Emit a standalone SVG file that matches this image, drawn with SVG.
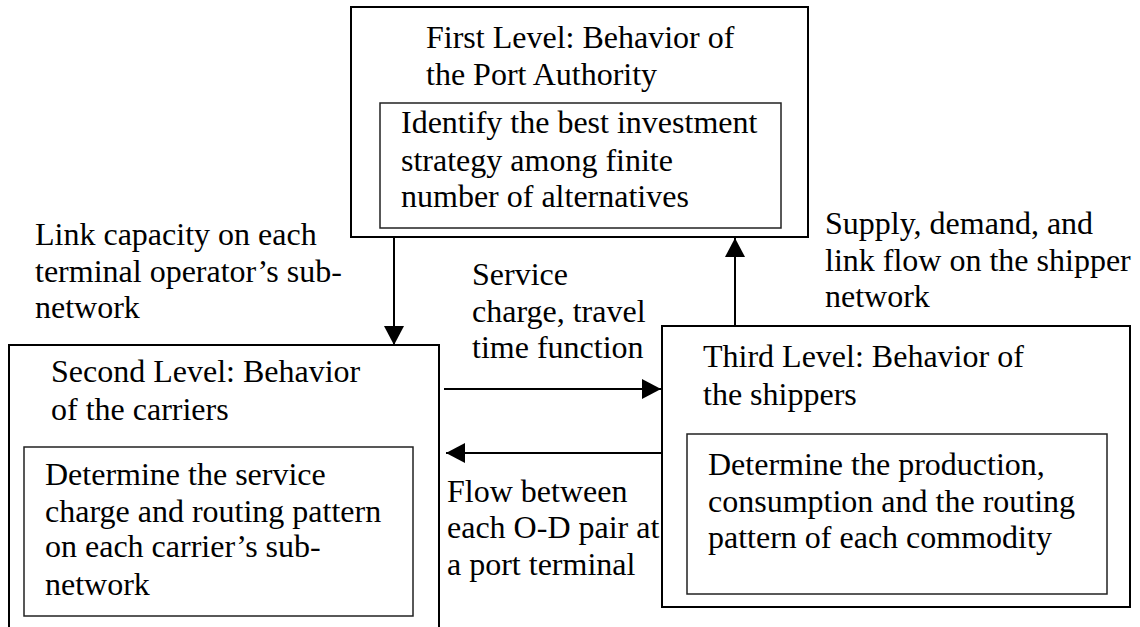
<svg xmlns="http://www.w3.org/2000/svg" width="1140" height="627" viewBox="0 0 1140 627">
<style>
.t{font-family:"Liberation Serif","Times New Roman",serif;font-size:32px;fill:#000}
.outer{fill:none;stroke:#000;stroke-width:2}
.inner{fill:none;stroke:#222;stroke-width:1.5}
.conn{stroke:#000;stroke-width:2;fill:none}
</style>
<defs>
<marker id="ah" markerUnits="userSpaceOnUse" markerWidth="19" markerHeight="20" refX="19" refY="10" orient="auto">
<path d="M0,0 L19,10 L0,20 z" fill="#000"/>
</marker>
</defs>
<rect width="1140" height="627" fill="#fff"/>
<g id="first-level">
<rect class="outer" x="351" y="7" width="457" height="230"/>
<text class="t" x="426" y="48">First Level: Behavior of</text>
<text class="t" x="426" y="85">the Port Authority</text>
<rect class="inner" x="380" y="103" width="401" height="125"/>
<text class="t" x="401" y="133">Identify the best investment</text>
<text class="t" x="401" y="171">strategy among finite</text>
<text class="t" x="401" y="207">number of alternatives</text>
</g>
<g id="second-level">
<rect class="outer" x="9" y="345" width="430" height="286"/>
<text class="t" x="51" y="382">Second Level: Behavior</text>
<text class="t" x="51" y="420">of the carriers</text>
<rect class="inner" x="24" y="447" width="389" height="169"/>
<text class="t" x="45" y="485">Determine the service</text>
<text class="t" x="45" y="522">charge and routing pattern</text>
<text class="t" x="45" y="557">on each carrier’s sub-</text>
<text class="t" x="45" y="595">network</text>
</g>
<g id="third-level">
<rect class="outer" x="662" y="326" width="468" height="281"/>
<text class="t" x="703" y="367">Third Level: Behavior of</text>
<text class="t" x="703" y="405">the shippers</text>
<rect class="inner" x="687" y="434" width="420" height="160"/>
<text class="t" x="708" y="475">Determine the production,</text>
<text class="t" x="708" y="512">consumption and the routing</text>
<text class="t" x="708" y="548">pattern of each commodity</text>
</g>
<g id="connectors">
<line class="conn" x1="394" y1="237" x2="394" y2="345" marker-end="url(#ah)"/>
<line class="conn" x1="735" y1="326" x2="735" y2="238" marker-end="url(#ah)"/>
<line class="conn" x1="444" y1="389" x2="661" y2="389" marker-end="url(#ah)"/>
<line class="conn" x1="662" y1="453" x2="446" y2="453" marker-end="url(#ah)"/>
</g>
<g id="labels">
<text class="t" x="35" y="245">Link capacity on each</text>
<text class="t" x="35" y="282">terminal operator’s sub-</text>
<text class="t" x="35" y="318">network</text>
<text class="t" x="825" y="234">Supply, demand, and</text>
<text class="t" x="825" y="271">link flow on the shipper</text>
<text class="t" x="825" y="307">network</text>
<text class="t" x="472" y="285">Service</text>
<text class="t" x="472" y="322">charge, travel</text>
<text class="t" x="472" y="358">time function</text>
<text class="t" x="447" y="502">Flow between</text>
<text class="t" x="447" y="538">each O-D pair at</text>
<text class="t" x="447" y="575">a port terminal</text>
</g>
</svg>
